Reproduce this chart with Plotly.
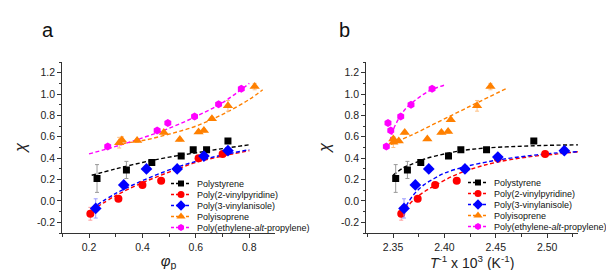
import plotly.graph_objects as go

# ---------------- data ----------------
series_names = ["Polystyrene", "Poly(2-vinylpyridine)", "Poly(3-vinylanisole)",
                "Polyisoprene", "Poly(ethylene-<i>alt</i>-propylene)"]
series_colors = ["#000000", "#ff0000", "#0000ff", "#ff8000", "#ff00ff"]
err_colors = ["#999999", "#ff9a9a", "#9a9aff", "#ffbf80", "#ff9aff"]
series_symbols = ["square", "circle", "diamond", "triangle-up", "hexagon"]

# panel a: chi vs phi_p
ps_phi = [0.23, 0.34, 0.435, 0.545, 0.59, 0.64, 0.72]
ps_chi_a = [0.21, 0.29, 0.36, 0.42, 0.48, 0.48, 0.56]
ps_err = [0.13, 0.08, 0.015, 0.015, 0.015, 0.015, 0.015]

p2vp_phi = [0.205, 0.31, 0.40, 0.47, 0.61, 0.70]
p2vp_chi_a = [-0.12, 0.02, 0.15, 0.19, 0.40, 0.44]
p2vp_err = [0.06, 0.015, 0.015, 0.015, 0.015, 0.015]

p3va_phi = [0.225, 0.33, 0.415, 0.53, 0.63, 0.72]
p3va_chi_a = [-0.07, 0.15, 0.30, 0.30, 0.42, 0.47]
p3va_err = [0.09, 0.015, 0.015, 0.015, 0.015, 0.015]

pi_phi = [0.313, 0.323, 0.38, 0.48, 0.54, 0.61, 0.63, 0.66, 0.72, 0.82]
pi_chi_a = [0.545, 0.57, 0.565, 0.64, 0.575, 0.645, 0.66, 0.77, 0.89, 1.07]
pi_err = [0.05, 0.03, 0.015, 0.015, 0.015, 0.015, 0.015, 0.015, 0.05, 0.03]

pep_phi = [0.27, 0.455, 0.495, 0.595, 0.685, 0.77]
pep_chi_a = [0.51, 0.66, 0.73, 0.79, 0.905, 1.05]
pep_err = [0.015, 0.015, 0.015, 0.015, 0.015, 0.015]

# panel b: chi vs 1/T x 10^3
ps_invT = [2.3526, 2.364, 2.377, 2.404, 2.416, 2.441, 2.487]
ps_chi_b = [0.21, 0.29, 0.36, 0.42, 0.48, 0.48, 0.56]

p2vp_invT = [2.358, 2.374, 2.391, 2.412, 2.452, 2.498]
p2vp_chi_b = [-0.12, 0.02, 0.15, 0.19, 0.40, 0.44]

p3va_invT = [2.3607, 2.3717, 2.3848, 2.420, 2.452, 2.5167]
p3va_chi_b = [-0.07, 0.15, 0.30, 0.30, 0.41, 0.47]

pi_invT = [2.3503, 2.3503, 2.3556, 2.3614, 2.3834, 2.3971, 2.4036, 2.4062, 2.4318, 2.4448]
pi_chi_b = [0.58, 0.55, 0.56, 0.64, 0.58, 0.64, 0.65, 0.76, 0.89, 1.07]
pi_err_b = [0.015, 0.05, 0.015, 0.015, 0.015, 0.015, 0.015, 0.015, 0.05, 0.03]

pep_invT = [2.3435, 2.3451, 2.3478, 2.3575, 2.3675, 2.388]
pep_chi_b = [0.51, 0.73, 0.66, 0.79, 0.90, 1.05]

# fitted (dashed) curves
fit_a_x = [0.21, 0.30, 0.40, 0.50, 0.60, 0.70, 0.80]
fit_a_ps = [0.24, 0.30, 0.36, 0.41, 0.45, 0.49, 0.525]
fit_a_p2vp = [-0.09, 0.05, 0.17, 0.27, 0.36, 0.42, 0.47]
fit_a_p3va = [-0.07, 0.07, 0.19, 0.29, 0.37, 0.43, 0.48]
fit_a_pi_x = [0.30, 0.40, 0.50, 0.60, 0.70, 0.80, 0.85]
fit_a_pi = [0.53, 0.565, 0.625, 0.70, 0.81, 0.95, 1.04]
fit_a_pep_x = [0.20, 0.30, 0.40, 0.50, 0.60, 0.70, 0.80]
fit_a_pep = [0.44, 0.51, 0.59, 0.68, 0.79, 0.92, 1.10]

fit_b_ps_x = [2.350, 2.36, 2.37, 2.38, 2.40, 2.42, 2.44, 2.47, 2.50, 2.53]
fit_b_ps = [0.24, 0.31, 0.35, 0.39, 0.44, 0.475, 0.495, 0.51, 0.52, 0.525]
fit_b_p2vp_x = [2.358, 2.365, 2.375, 2.39, 2.41, 2.43, 2.45, 2.48, 2.51, 2.53]
fit_b_p2vp = [-0.12, -0.04, 0.05, 0.14, 0.24, 0.31, 0.36, 0.41, 0.44, 0.46]
fit_b_p3va_x = [2.360, 2.365, 2.372, 2.38, 2.39, 2.40, 2.42, 2.45, 2.48, 2.51, 2.53]
fit_b_p3va = [-0.10, -0.01, 0.08, 0.15, 0.21, 0.26, 0.32, 0.38, 0.42, 0.45, 0.46]
fit_b_pi_x = [2.348, 2.37, 2.39, 2.41, 2.43, 2.461]
fit_b_pi = [0.53, 0.625, 0.72, 0.815, 0.91, 1.055]
fit_b_pep_x = [2.347, 2.350, 2.355, 2.362, 2.37, 2.38, 2.39, 2.402]
fit_b_pep = [0.56, 0.66, 0.76, 0.86, 0.93, 1.00, 1.05, 1.09]

y_tickvals = [-0.2, 0.0, 0.2, 0.4, 0.6, 0.8, 1.0, 1.2]
y_ticktext = ["-0.2", "0.0", "0.2", "0.4", "0.6", "0.8", "1.0", "1.2"]
xa_tickvals = [0.2, 0.4, 0.6, 0.8]
xa_ticktext = ["0.2", "0.4", "0.6", "0.8"]
xb_tickvals = [2.35, 2.40, 2.45, 2.50]
xb_ticktext = ["2.35", "2.40", "2.45", "2.50"]

# ---------------- figure ----------------
W, H = 614, 270
FONT = "Arial, 'Liberation Sans', sans-serif"
fig = go.Figure()

pts_a = [(ps_phi, ps_chi_a, ps_err), (p2vp_phi, p2vp_chi_a, p2vp_err),
         (p3va_phi, p3va_chi_a, p3va_err), (pi_phi, pi_chi_a, pi_err),
         (pep_phi, pep_chi_a, pep_err)]
pts_b = [(ps_invT, ps_chi_b, ps_err), (p2vp_invT, p2vp_chi_b, p2vp_err),
         (p3va_invT, p3va_chi_b, p3va_err), (pi_invT, pi_chi_b, pi_err_b),
         (pep_invT, pep_chi_b, pep_err)]
fits_a = [(fit_a_x, fit_a_ps), (fit_a_x, fit_a_p2vp), (fit_a_x, fit_a_p3va),
          (fit_a_pi_x, fit_a_pi), (fit_a_pep_x, fit_a_pep)]
fits_b = [(fit_b_ps_x, fit_b_ps), (fit_b_p2vp_x, fit_b_p2vp), (fit_b_p3va_x, fit_b_p3va),
          (fit_b_pi_x, fit_b_pi), (fit_b_pep_x, fit_b_pep)]

msizes = [7, 8, 9, 9, 8]
DASH = "4px,2.5px"

for (xr, yr, pts, fits) in [("x", "y", pts_a, fits_a), ("x2", "y2", pts_b, fits_b)]:
    for i in range(5):
        fx, fy = fits[i]
        fig.add_trace(go.Scatter(x=fx, y=fy, mode="lines", xaxis=xr, yaxis=yr,
                                 line=dict(color=series_colors[i], width=1.4, dash=DASH, shape="spline"),
                                 showlegend=False, hoverinfo="skip"))
    for i in range(5):
        px, py, pe = pts[i]
        fig.add_trace(go.Scatter(x=px, y=py, mode="markers", xaxis=xr, yaxis=yr,
                                 marker=dict(color=series_colors[i], symbol=series_symbols[i],
                                             size=msizes[i], line=dict(width=0)),
                                 error_y=dict(type="data", array=pe, color=err_colors[i],
                                              thickness=1, width=2),
                                 showlegend=False))

# manual legends on a pixel overlay axis
legend_spec = [(163, 183, 186.5, 175.5), (460, 480, 483.5, 174.5)]
for (lx0, lx1, tx, ty0) in legend_spec:
    for i in range(5):
        yy = ty0 + 11 * i
        fig.add_trace(go.Scatter(x=[lx0, lx1], y=[yy, yy], mode="lines", xaxis="x3", yaxis="y3",
                                 line=dict(color=series_colors[i], width=1.4, dash="3px,2px"),
                                 showlegend=False, hoverinfo="skip"))
        fig.add_trace(go.Scatter(x=[(lx0 + lx1) / 2], y=[yy], mode="markers", xaxis="x3", yaxis="y3",
                                 marker=dict(color=series_colors[i], symbol=series_symbols[i],
                                             size=msizes[i] - 1, line=dict(width=0)),
                                 showlegend=False, hoverinfo="skip"))
        fig.add_annotation(x=tx, y=yy, xref="x3", yref="y3", text=series_names[i],
                           showarrow=False, xanchor="left", yanchor="middle",
                           font=dict(size=9, family=FONT, color="#111"))

axis_common = dict(showline=True, linecolor="#333", linewidth=1.3, mirror=False,
                   ticks="outside", ticklen=4, tickwidth=1.1, tickcolor="#333",
                   showgrid=False, zeroline=False, automargin=False,
                   tickfont=dict(size=10.5, family=FONT, color="#222"),
                   minor=dict(ticks="outside", ticklen=2.5, tickwidth=1, tickcolor="#333"))

ydom = [1 - 225 / H, 1 - 54 / H]
fig.update_layout(
    width=W, height=H, autosize=False,
    margin=dict(l=0, r=0, t=0, b=0),
    paper_bgcolor="white", plot_bgcolor="rgba(0,0,0,0)",
    font=dict(family=FONT),
    xaxis=dict(domain=[54.3 / W, 266.7 / W], range=[0.1, 0.895], anchor="y",
               tickvals=xa_tickvals, ticktext=xa_ticktext,
               minor_dtick=0.1, minor_tick0=0.1,
               title=dict(text="<i>φ</i><sub>p</sub>", font=dict(size=15, family=FONT, color="#222"), standoff=3),
               **axis_common),
    yaxis=dict(domain=ydom, range=[-0.30, 1.30], anchor="x",
               tickvals=y_tickvals, ticktext=y_ticktext, minor_dtick=0.1, minor_tick0=0,
               title=dict(text="<i>χ</i>", font=dict(size=16, family=FONT, color="#222"), standoff=6),
               **axis_common),
    xaxis2=dict(domain=[358.3 / W, 570 / W], range=[2.324, 2.53], anchor="y2",
                tickvals=xb_tickvals, ticktext=xb_ticktext,
                minor_dtick=0.025, minor_tick0=2.325,
                title=dict(text="<i>T</i><sup>-1</sup> x 10<sup>3</sup> (K<sup>-1</sup>)",
                           font=dict(size=14, family=FONT, color="#222"), standoff=4),
                **axis_common),
    yaxis2=dict(domain=ydom, range=[-0.30, 1.30], anchor="x2",
                tickvals=y_tickvals, ticktext=y_ticktext, minor_dtick=0.1, minor_tick0=0,
                title=dict(text="<i>χ</i>", font=dict(size=16, family=FONT, color="#222"), standoff=6),
                **axis_common),
    xaxis3=dict(domain=[0, 1], range=[0, W], visible=False, anchor="y3", fixedrange=True),
    yaxis3=dict(domain=[0, 1], range=[H, 0], visible=False, anchor="x3", fixedrange=True),
)

fig.add_annotation(x=40 / W, y=1 - 22 / H, xref="paper", yref="paper", text="a", showarrow=False,
                   xanchor="center", yanchor="middle", font=dict(size=20, family=FONT, color="#111"))
fig.add_annotation(x=336 / W, y=1 - 22 / H, xref="paper", yref="paper", text="b", showarrow=False,
                   xanchor="center", yanchor="middle", font=dict(size=20, family=FONT, color="#111"))

fig.write_html("out.html")
